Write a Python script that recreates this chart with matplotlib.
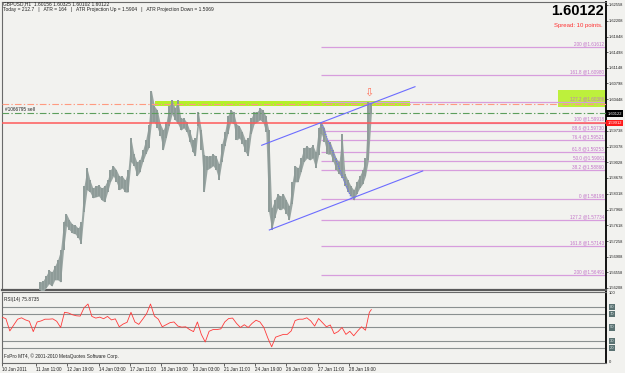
import numpy as np
import matplotlib
matplotlib.use("Agg")
import matplotlib.pyplot as plt
from matplotlib.transforms import blended_transform_factory

plt.rcParams['font.family'] = ['Liberation Sans', 'DejaVu Sans']

# ---------------- data ----------------
# H1 GBPUSD, hours counted in trading hours from 10 Jan 2011 00:00
bar_start_hour = 39
bar_step_hours = 3
bar_high = [1.5634, 1.5637, 1.5648, 1.5661, 1.5657, 1.5670, 1.5684, 1.5706, 1.5769, 1.5787,
            1.5773, 1.5764, 1.5762, 1.5755, 1.5769, 1.5850, 1.5890, 1.5863, 1.5845, 1.5850,
            1.5852, 1.5845, 1.5850, 1.5863, 1.5886, 1.5895, 1.5886, 1.5872, 1.5872, 1.5863,
            1.5886, 1.5957, 1.5921, 1.5904, 1.5908, 1.5930, 1.5953, 1.5987, 1.6063, 1.6029,
            1.6020, 1.5989, 1.5975, 1.5993, 1.6029, 1.6043, 1.6025, 1.6043, 1.6002, 1.6002,
            1.5993, 1.5975, 1.5953, 1.5957, 1.6016, 1.5975, 1.5919, 1.5917, 1.5917, 1.5921,
            1.5917, 1.5899, 1.5944, 1.5971, 1.6007, 1.6020, 1.6016, 1.5989, 1.5984, 1.5971,
            1.5953, 1.5957, 1.6002, 1.6016, 1.6016, 1.6025, 1.6020, 1.6007, 1.5975, 1.5800,
            1.5818, 1.5832, 1.5827, 1.5832, 1.5818, 1.5805, 1.5859, 1.5895, 1.5890, 1.5912,
            1.5935, 1.5939, 1.5935, 1.5942, 1.5926, 1.5980, 1.5993, 1.5980, 1.5953, 1.5948,
            1.5930, 1.5912, 1.5904, 1.5966, 1.5877, 1.5863, 1.5850, 1.5841, 1.5859, 1.5872,
            1.5886, 1.5912, 1.6038, 1.6034]
bar_low = [1.5605, 1.5612, 1.5621, 1.5630, 1.5625, 1.5639, 1.5639, 1.5634, 1.5706, 1.5760,
           1.5751, 1.5744, 1.5742, 1.5733, 1.5720, 1.5791, 1.5841, 1.5836, 1.5823, 1.5825,
           1.5827, 1.5818, 1.5814, 1.5836, 1.5859, 1.5872, 1.5859, 1.5841, 1.5845, 1.5836,
           1.5836, 1.5904, 1.5895, 1.5872, 1.5881, 1.5904, 1.5921, 1.5935, 1.5993, 1.5993,
           1.5980, 1.5962, 1.5930, 1.5957, 1.5984, 1.6011, 1.5998, 1.5989, 1.5975, 1.5980,
           1.5971, 1.5948, 1.5926, 1.5917, 1.5984, 1.5930, 1.5836, 1.5886, 1.5890, 1.5895,
           1.5886, 1.5863, 1.5904, 1.5939, 1.5966, 1.5993, 1.5989, 1.5953, 1.5957, 1.5944,
           1.5926, 1.5917, 1.5966, 1.5989, 1.5993, 1.5998, 1.5993, 1.5971, 1.5791, 1.5751,
           1.5778, 1.5800, 1.5796, 1.5800, 1.5787, 1.5773, 1.5809, 1.5859, 1.5859, 1.5881,
           1.5904, 1.5912, 1.5908, 1.5912, 1.5890, 1.5919, 1.5966, 1.5948, 1.5921, 1.5921,
           1.5904, 1.5886, 1.5877, 1.5868, 1.5850, 1.5836, 1.5827, 1.5818, 1.5832, 1.5845,
           1.5854, 1.5872, 1.5908, 1.6011]

rsi_step_hours = 4
rsi_values = [65, 62.7, 45, 53.6, 62, 64, 61, 59, 44, 58,
              59.5, 62, 62, 62.5, 59, 50, 72, 71, 68.5, 67,
              66.5, 78.6, 84, 66, 63.6, 65, 62.7, 66, 61, 62.5,
              51, 55, 57.5, 72, 58, 54.5, 62, 70, 84, 66.5,
              62, 51, 54, 57, 58, 52, 50.5, 51, 47, 44,
              58, 40, 29, 44.5, 47, 47, 48, 58, 63, 63.6,
              56, 50, 54, 50, 56, 60.5, 58, 50, 35, 22,
              36, 38, 40, 40, 45, 60, 62, 62, 64, 59.5,
              52, 63, 57, 51, 53.6, 41, 44, 50, 40, 44.5,
              38, 45, 51, 46, 72]
rsi_last_hour = 378
rsi_last = 75.8735
rsi_levels = [80, 70, 50, 30, 20]

time_tick_hours = [0, 35, 67, 99, 131, 163, 195, 227, 259, 291, 323, 355]
time_tick_labels = ["10 Jan 2011", "11 Jan 11:00", "12 Jan 19:00", "14 Jan 03:00", "17 Jan 11:00",
                    "18 Jan 19:00", "20 Jan 03:00", "21 Jan 11:00", "24 Jan 19:00", "26 Jan 03:00",
                    "27 Jan 11:00", "28 Jan 19:00"]

price_ticks = [1.62558, 1.62208, 1.61848, 1.61498, 1.61148, 1.60798, 1.60448, 1.59738,
               1.59378, 1.59028, 1.58678, 1.58318, 1.57968, 1.57618, 1.57258, 1.56908,
               1.56558, 1.56208]
price_tick_labels = ["1.62558", "1.62208", "1.61848", "1.61498", "1.61148", "1.60798", "1.60448",
                     "1.59738", "1.59378", "1.59028", "1.58678", "1.58318", "1.57968", "1.57618",
                     "1.57258", "1.56908", "1.56558", "1.56208"]

bid_price = 1.60122
stop_price = 1.59912
order_price = 1.60134
tp_price = 1.60336

fib_start_hour = 326.5
fib_prices = [1.61612, 1.60980, 1.60386, 1.59918, 1.59730, 1.59521, 1.59253, 1.59061,
              1.58860, 1.58198, 1.57734, 1.57143, 1.56491]
fib_labels = ["200 @1.61612", "161.8 @1.60980", "127.2 @1.60386", "100 @1.59918", "88.6 @1.59730",
              "76.4 @1.59521", "61.8 @1.59253", "50.0 @1.59061", "38.2 @1.58860", "0 @1.58198",
              "127.2 @1.57734", "161.8 @1.57143", "200 @1.56491"]
fib_trend_hours = [326.5, 357.9]
fib_trend_prices = [1.59918, 1.58198]

chan_up_hours = [265.8, 422.7]
chan_up_prices = [1.59410, 1.60724]
chan_dn_hours = [273.6, 430.6]
chan_dn_prices = [1.57509, 1.58833]

zone_hours = [156.6, 417.6]
zone_prices = [1.60298, 1.60410]
zone2_hours = [569.0, 618.2]
zone2_prices = [1.60262, 1.60650]

arrow_hour = 375.7
arrow_price = 1.60583

# ---------------- layout ----------------
W, H = 625, 373
fig = plt.figure(figsize=(W / 100, H / 100), dpi=100)
bg = '#f2f2ef'
fig.patch.set_facecolor(bg)


def rect(l, t, r, b):
    return [l / W, 1 - b / H, (r - l) / W, (b - t) / H]


def fxy(x, y):
    return x / W, 1 - y / H


ax = fig.add_axes(rect(2, 2, 606, 290))
axr = fig.add_axes(rect(2, 292, 606, 363))
for a in (ax, axr):
    a.set_facecolor(bg)
    a.set_xlim(0, 618.2)
    for s in ('left', 'top', 'bottom'):
        a.spines[s].set_color('#6a6a6a')
        a.spines[s].set_linewidth(0.8)
    a.spines['right'].set_color('#111111')
    a.spines['right'].set_linewidth(1.4)
ax.spines['bottom'].set_linewidth(1.6)
ax.spines['bottom'].set_color('#5a5a5a')
ax.set_ylim(1.56162, 1.62625)

# --- price bars ---
bar_hours = [bar_start_hour + bar_step_hours * i for i in range(len(bar_high))]
pc = '#99a5a2'
ax.fill_between(bar_hours, bar_low, bar_high, color=pc, lw=0, zorder=3)
ax.vlines(bar_hours, bar_low, bar_high, colors='#8e9b98', linewidth=1.4, zorder=3)

# --- zones ---
ax.fill_between(zone_hours, zone_prices[0], zone_prices[1], color='#b4f02a', lw=0, zorder=2)
ax.fill_between(zone2_hours, zone2_prices[0], zone2_prices[1], color='#bdf03c', lw=0, zorder=2)

# --- horizontal lines ---
ax.axhline(tp_price, color='#ff9a80', lw=0.8, dashes=(6, 2, 1.2, 2), zorder=4)
ax.axhline(order_price, color='#5c9e5c', lw=0.8, dashes=(6, 2, 1.2, 2), zorder=4)
ax.axhline(stop_price, color='#ff5a5a', lw=1.1, zorder=4)

# --- fibonacci ---
ax.hlines(fib_prices, fib_start_hour, 618.2, colors='#d79ddd', lw=0.9, zorder=2)
for p, lab in zip(fib_prices, fib_labels):
    ax.annotate(lab, xy=(1, p), xycoords=('axes fraction', 'data'), xytext=(-1.5, 0.6),
                textcoords='offset points', ha='right', va='bottom', fontsize=3.3,
                color='#c272c8', zorder=6)
ax.plot(fib_trend_hours, fib_trend_prices, color='#6a6aff', lw=0.8, ls=(0, (1, 1.2)), zorder=5)

# --- channel ---
ax.plot(chan_up_hours, chan_up_prices, color='#6c6cff', lw=0.8, zorder=5)
ax.plot(chan_dn_hours, chan_dn_prices, color='#6c6cff', lw=0.8, zorder=5)

# --- arrow ---
ax.text(arrow_hour, arrow_price, '\u21e9', color='#ff7058', fontsize=8, ha='center', va='center',
        family='DejaVu Sans', zorder=6)

# order label
ax.annotate('#1066795 sell', xy=(0, order_price), xycoords=('axes fraction', 'data'),
            xytext=(2, 1), textcoords='offset points', ha='left', va='bottom', fontsize=3.4,
            color='#222222')

# --- price axis ---
ax.yaxis.tick_right()
ax.set_yticks(price_ticks)
ax.set_yticklabels(price_tick_labels)
ax.tick_params(axis='y', direction='out', length=1.5, width=0.5, pad=0.6, labelsize=2.9,
               colors='#222222')
ax.set_xticks([])

for p, txt, fc in ((bid_price, '1.60122', '#000000'), (stop_price, '1.59912', '#ff1a1a')):
    ax.annotate(txt, xy=(1, p), xycoords=('axes fraction', 'data'), xytext=(1.2, 0),
                textcoords='offset points', ha='left', va='center', fontsize=2.9, color='white',
                bbox=dict(boxstyle='square,pad=0.3', fc=fc, ec='none'), zorder=10,
                annotation_clip=False)

# --- RSI ---
axr.set_ylim(-1.45, 101.4)
rsi_hours = [rsi_step_hours * i for i in range(len(rsi_values))] + [rsi_last_hour]
axr.hlines(rsi_levels, 0, 618.2, colors='#8a9090', lw=0.8)
axr.plot(rsi_hours, rsi_values + [rsi_last], color='#ff3a3a', lw=0.6, zorder=4)
axr.set_yticks([])
axr.set_xticks(time_tick_hours)
axr.set_xticklabels(time_tick_labels, ha='left')
axr.tick_params(axis='x', direction='out', length=2, width=0.5, pad=1, labelsize=3.3,
                colors='#222222')
tr = blended_transform_factory(axr.transAxes, axr.transData)
axr.text(1.005, 100, '100', transform=tr, fontsize=3.0, va='center', ha='left', color='#222222')
axr.text(1.005, 0, '0', transform=tr, fontsize=3.0, va='center', ha='left', color='#222222')
for lv in rsi_levels:
    axr.text(1.006, lv, str(lv), transform=tr, fontsize=3.0, va='center', ha='left',
             color='#d8e4e4', bbox=dict(boxstyle='square,pad=0.25', fc='#5a7272', ec='none'))
axr.text(0.004, 0.93, 'RSI(14) 75.8735', transform=axr.transAxes, fontsize=3.4, va='top',
         ha='left', color='#222222')
axr.text(0.004, 0.05, 'FxPro MT4, \u00a9 2001-2010 MetaQuotes Software Corp.',
         transform=axr.transAxes, fontsize=3.4, va='bottom', ha='left', color='#222222')

# --- header texts ---
fig.text(*fxy(3, 1.5), 'GBPUSD,H1  1.60156 1.60325 1.60102 1.60122', fontsize=3.5, va='top',
         ha='left', color='#222222')
fig.text(*fxy(3, 7.5),
         'Today = 212.7   |   ATR = 164   |   ATR Projection Up = 1.5904   |   ATR Projection Down = 1.5069',
         fontsize=3.5, va='top', ha='left', color='#222222')
fig.text(*fxy(604, 4), '1.60122', fontsize=10.5, fontweight='heavy', va='top', ha='right',
         color='#000000', family=['Liberation Sans Narrow', 'Liberation Sans', 'DejaVu Sans'])
fig.text(*fxy(603, 25), 'Spread: 10 points.', fontsize=4.3, va='center', ha='right',
         color='#ff3030')

fig.savefig('out.png', dpi=100, facecolor=bg)
